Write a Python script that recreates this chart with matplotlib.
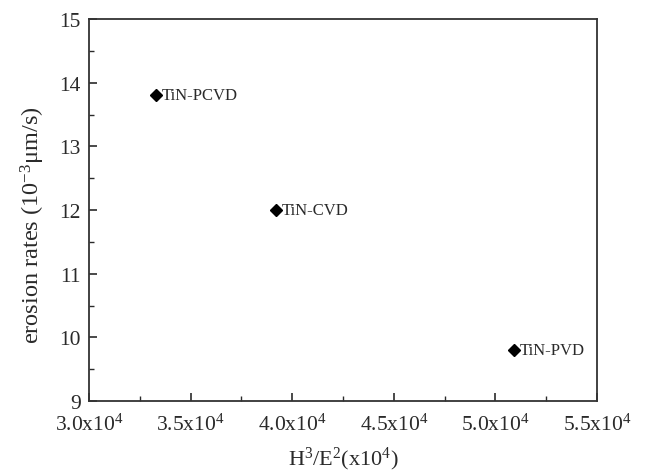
import matplotlib
matplotlib.use("Agg")
import matplotlib.pyplot as plt
from matplotlib.ticker import MultipleLocator, FuncFormatter

plt.rcParams['font.family'] = ['Liberation Serif', 'DejaVu Serif']
plt.rcParams['mathtext.fontset'] = 'custom'
plt.rcParams['mathtext.rm'] = 'Liberation Serif'
plt.rcParams['mathtext.it'] = 'Liberation Serif:italic'

names = ["TiN-PCVD", "TiN-CVD", "TiN-PVD"]
h3e2 = [3.33e4, 3.92e4, 5.09e4]
erosion = [13.8, 12.0, 9.8]

fig = plt.figure(figsize=(6.49, 4.77), dpi=100)
ax = fig.add_axes([0.137, 0.157, 0.783, 0.801])

ax.plot(h3e2, erosion, linestyle='none', marker='D', color='black', markersize=6.5)
for n, x, y in zip(names, h3e2, erosion):
    ax.annotate(n, (x, y), xytext=(4, 0), textcoords='offset points',
                va='center', ha='left', fontsize=12, color='#2a2a2a')

ax.set_xlim(3.0e4, 5.5e4)
ax.set_ylim(9, 15)
ax.xaxis.set_major_locator(MultipleLocator(0.5e4))
ax.xaxis.set_minor_locator(MultipleLocator(0.25e4))
ax.yaxis.set_major_locator(MultipleLocator(1))
ax.yaxis.set_minor_locator(MultipleLocator(0.5))
ax.xaxis.set_major_formatter(FuncFormatter(lambda v, p: "%.1fx10$^{4}$" % (v / 1e4)))
ax.tick_params(which='both', direction='in', top=False, right=False, labelsize=15.5, colors='#2a2a2a')
ax.tick_params(which='major', length=6, width=1.2)
ax.tick_params(which='minor', length=3.5, width=1.0)
ax.tick_params(axis='x', pad=9)
ax.tick_params(axis='y', pad=6)
for s in ax.spines.values():
    s.set_linewidth(1.3)
    s.set_color('#333333')

ax.set_xlabel("H$^{3}$/E$^{2}$(x10$^{4}$)", fontsize=16, color='#2a2a2a', labelpad=7)
ax.set_ylabel("erosion rates (10$^{-3}$\u03bcm/s)", fontsize=17.5, color='#2a2a2a')
ax.yaxis.set_label_coords(-0.082, 0.463)

fig.savefig("out.png", dpi=100)
